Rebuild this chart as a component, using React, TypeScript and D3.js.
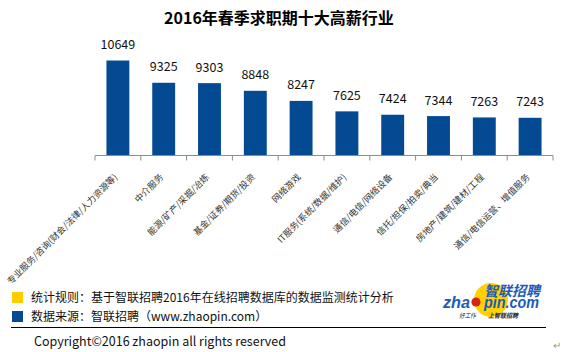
import React from 'react';
import * as d3 from 'd3';

const categories = [
  '专业服务/咨询(财会/法律/人力资源等)',
  '中介服务',
  '能源/矿产/采掘/冶炼',
  '基金/证券/期货/投资',
  '网络游戏',
  'IT服务(系统/数据/维护)',
  '通信/电信/网络设备',
  '信托/担保/拍卖/典当',
  '房地产/建筑/建材/工程',
  '通信/电信运营、增值服务',
];
const salaries = [10649, 9325, 9303, 8848, 8247, 7625, 7424, 7344, 7263, 7243];
const yDomain = [5000, 12000];

const W = 563;
const H = 352;
const CJK = '"Noto Sans CJK SC", "Noto Sans", sans-serif';
const LATIN = "Arial, 'Liberation Sans', sans-serif";

const App = () => {
  const x = d3.scaleBand<string>()
    .domain(categories)
    .range([95, 553])
    .paddingInner(0.5)
    .paddingOuter(0.25);

  const y = d3.scaleLinear().domain(yDomain).range([155.5, 37.8]);
  const baseY = y(yDomain[0]);
  const step = x.step();
  const tickXs = d3.range(categories.length + 1).map(i => 95 + i * step);

  return (
    <svg width={W} height={H} style={{ position: 'absolute', left: 0, top: 0, background: '#fff' }}>
      {/* title */}
      <text x={279} y={24} textAnchor="middle" fontFamily={CJK} fontWeight="bold" fontSize={16} fill="#000">
        2016年春季求职期十大高薪行业
      </text>

      {/* bars */}
      {salaries.map((v, i) => (
        <g key={i}>
          <rect
            x={x(categories[i])}
            y={y(v)}
            width={x.bandwidth()}
            height={baseY - y(v)}
            fill="#034a93"
          />
          <text
            x={(x(categories[i]) as number) + x.bandwidth() / 2}
            y={y(v) - 11.5}
            textAnchor="middle"
            fontFamily={CJK}
            fontSize={12.5}
            fill="#111"
          >
            {v}
          </text>
        </g>
      ))}

      {/* axis */}
      <line x1={95} x2={553} y1={baseY} y2={baseY} stroke="#8c8c8c" strokeWidth={1} />
      {tickXs.map((tx, i) => (
        <line key={i} x1={tx} x2={tx} y1={baseY} y2={baseY + 5} stroke="#8c8c8c" strokeWidth={1} />
      ))}
      {categories.map((c, i) => {
        const cx = (x(c) as number) + x.bandwidth() / 2;
        return (
          <text
            key={c}
            transform={`translate(${cx - 2},${baseY + 20}) rotate(-45)`}
            textAnchor="end"
            dy="0.35em"
            fontFamily={CJK}
            fontSize={9}
            fill="#333"
          >
            {c}
          </text>
        );
      })}

      {/* notes */}
      <rect x={12} y={292} width={11} height={11} fill="#ffcc00" />
      <text x={31} y={302} fontFamily={CJK} fontSize={12} fill="#111">
        统计规则：基于智联招聘2016年在线招聘数据库的数据监测统计分析
      </text>
      <rect x={12} y={311} width={11} height={11} fill="#034a93" />
      <text x={31} y={321} fontFamily={CJK} fontSize={12} fill="#111">
        数据来源：智联招聘（www.zhaopin.com）
      </text>
      <line x1={11} x2={546} y1={327.5} y2={327.5} stroke="#000" strokeWidth={1} />
      <text x={34} y={346} fontFamily={CJK} fontSize={13} fill="#111" textLength={252} lengthAdjust="spacingAndGlyphs">
        Copyright©2016 zhaopin all rights reserved
      </text>
      <text x={553} y={349} fontFamily={CJK} fontSize={10} fill="#999">↵</text>

      {/* logo */}
      <circle cx={491} cy={300} r={17} fill="#ffd200" />
      <text x={484} y={296} fontFamily={CJK} fontWeight="bold" fontSize={14} fill="#1d5bb8" fontStyle="italic"
        textLength={56} lengthAdjust="spacingAndGlyphs">
        智联招聘
      </text>
      <text x={443} y={307.5} fontFamily={LATIN} fontWeight="bold" fontSize={16} fill="#1d5bb8" fontStyle="italic"
        textLength={27} lengthAdjust="spacingAndGlyphs">
        zha
      </text>
      <circle cx={476} cy={302} r={4.6} fill="#d8251c" />
      <text x={484} y={307.5} fontFamily={LATIN} fontWeight="bold" fontSize={16} fill="#1d5bb8" fontStyle="italic"
        textLength={55} lengthAdjust="spacingAndGlyphs">
        pin.com
      </text>
      <text x={459} y={317.5} fontFamily={CJK} fontSize={6.5} fill="#222" fontStyle="italic"
        textLength={17} lengthAdjust="spacingAndGlyphs">
        好工作
      </text>
      <text x={488} y={317.5} fontFamily={CJK} fontSize={6.5} fontWeight="bold" fill="#222" fontStyle="italic"
        textLength={30} lengthAdjust="spacingAndGlyphs">
        上智联招聘
      </text>
    </svg>
  );
};

export default App;
